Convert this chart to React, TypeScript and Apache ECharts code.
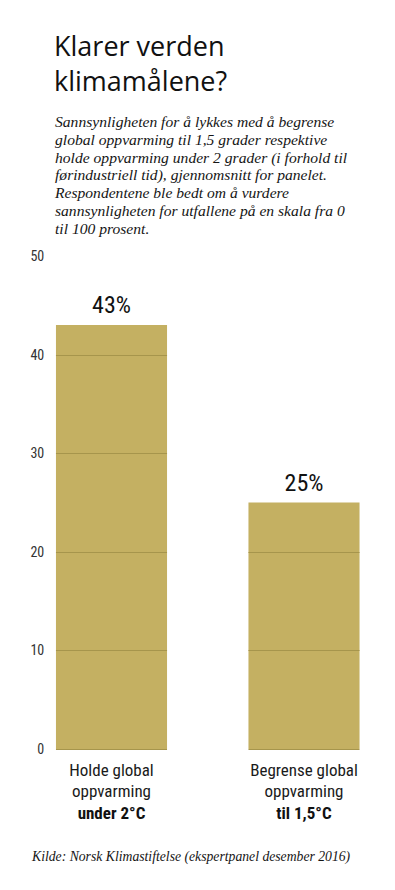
import React, { useEffect, useRef } from "react";
import * as echarts from "echarts";

const titleLines = ["Klarer verden", "klimamålene?"];
const introLines = [
  "Sannsynligheten for å lykkes med å begrense",
  "global oppvarming til 1,5 grader respektive",
  "holde oppvarming under 2 grader (i forhold til",
  "førindustriell tid), gjennomsnitt for panelet.",
  "Respondentene ble bedt om å vurdere",
  "sannsynligheten for utfallene på en skala fra 0",
  "til 100 prosent.",
];
const sourceText = "Kilde: Norsk Klimastiftelse (ekspertpanel desember 2016)";

const categoryTop = ["Holde global\noppvarming", "Begrense global\noppvarming"];
const categoryBold = ["under 2°C", "til 1,5°C"];
const values = [43, 25];
const yTicks = [0, 10, 20, 30, 40, 50];

const BAR = "#c4b062";
const BAR_LINE = "#a6954c";
const COND = "'Liberation Sans Narrow', 'Roboto Condensed', Roboto, sans-serif";
const SERIF = "'Liberation Serif', 'DejaVu Serif', serif";

export default function App() {
  const ref = useRef<HTMLDivElement>(null);

  useEffect(() => {
    if (!ref.current) return;
    const chart = echarts.init(ref.current, undefined, { renderer: "svg" });
    const step = yTicks[1] - yTicks[0];

    chart.setOption({
      animation: false,
      backgroundColor: "#ffffff",
      title: [
        {
          text: titleLines.join("\n"),
          left: 54,
          top: 28,
          padding: 0,
          textStyle: {
            fontFamily: "'Open Sans', 'Noto Sans', sans-serif",
            fontWeight: 400,
            fontSize: 27,
            lineHeight: 35,
            color: "#111111",
          },
        },
        {
          text: introLines.join("\n"),
          left: 55,
          top: 113,
          padding: 0,
          textStyle: {
            fontFamily: SERIF,
            fontStyle: "italic",
            fontWeight: 400,
            fontSize: 15.6,
            lineHeight: 17.7,
            color: "#151515",
          },
        },
        {
          text: sourceText,
          left: 32,
          top: 849,
          padding: 0,
          textStyle: {
            fontFamily: SERIF,
            fontStyle: "italic",
            fontWeight: 400,
            fontSize: 13.7,
            color: "#151515",
          },
        },
      ],
      // the plot area runs a little past the right edge of the visible page
      grid: { left: 15.25, right: 9.75, top: 256, bottom: 141, containLabel: false },
      xAxis: {
        type: "category",
        data: categoryTop.map((t, i) => t + "\n{b|" + categoryBold[i] + "}"),
        axisLine: { show: false },
        axisTick: { show: false },
        axisLabel: {
          margin: 10,
          interval: 0,
          fontFamily: COND,
          fontSize: 17,
          lineHeight: 21.5,
          color: "#1a1a1a",
          rich: {
            b: {
              fontFamily: COND,
              fontSize: 17,
              fontWeight: "bold",
              lineHeight: 21.5,
              color: "#111111",
            },
          },
        },
      },
      yAxis: {
        type: "value",
        min: yTicks[0],
        max: yTicks[yTicks.length - 1],
        interval: step,
        offset: -37,
        axisLine: { show: false },
        axisTick: { show: false },
        splitLine: { show: false },
        axisLabel: {
          margin: 8,
          fontFamily: COND,
          fontSize: 14,
          color: "#333333",
        },
      },
      series: [
        {
          type: "custom",
          data: values.map((v, i) => [i, v]),
          encode: { x: 0, y: 1 },
          renderItem: (params: any, api: any) => {
            const idx = api.value(0);
            const val = api.value(1);
            const [cx, top] = api.coord([idx, val]);
            const base = api.coord([idx, 0])[1];
            const band = api.size([1, 0])[0];
            const w = band * 0.577;
            const x0 = cx - w / 2;
            const children: any[] = [
              {
                type: "rect",
                shape: { x: x0, y: top, width: w, height: base - top },
                style: { fill: BAR },
              },
            ];
            // thin darker rules across the bar at each tick below its top
            for (let v = 0; v < val; v += step) {
              const y = Math.round(api.coord([idx, v])[1]) + 0.5;
              children.push({
                type: "line",
                shape: { x1: x0, y1: y, x2: x0 + w, y2: y },
                style: { stroke: BAR_LINE, lineWidth: 1.2 },
              });
            }
            children.push({
              type: "text",
              x: cx,
              y: top - 8,
              style: {
                text: val + "%",
                fontFamily: COND,
                fontSize: 24,
                fill: "#111111",
                align: "center",
                verticalAlign: "bottom",
              },
            });
            return { type: "group", children };
          },
        },
      ],
    });

    return () => chart.dispose();
  }, []);

  return (
    <div
      ref={ref}
      style={{ position: "fixed", left: 0, top: 0, width: 410, height: 890, background: "#fff" }}
    />
  );
}
